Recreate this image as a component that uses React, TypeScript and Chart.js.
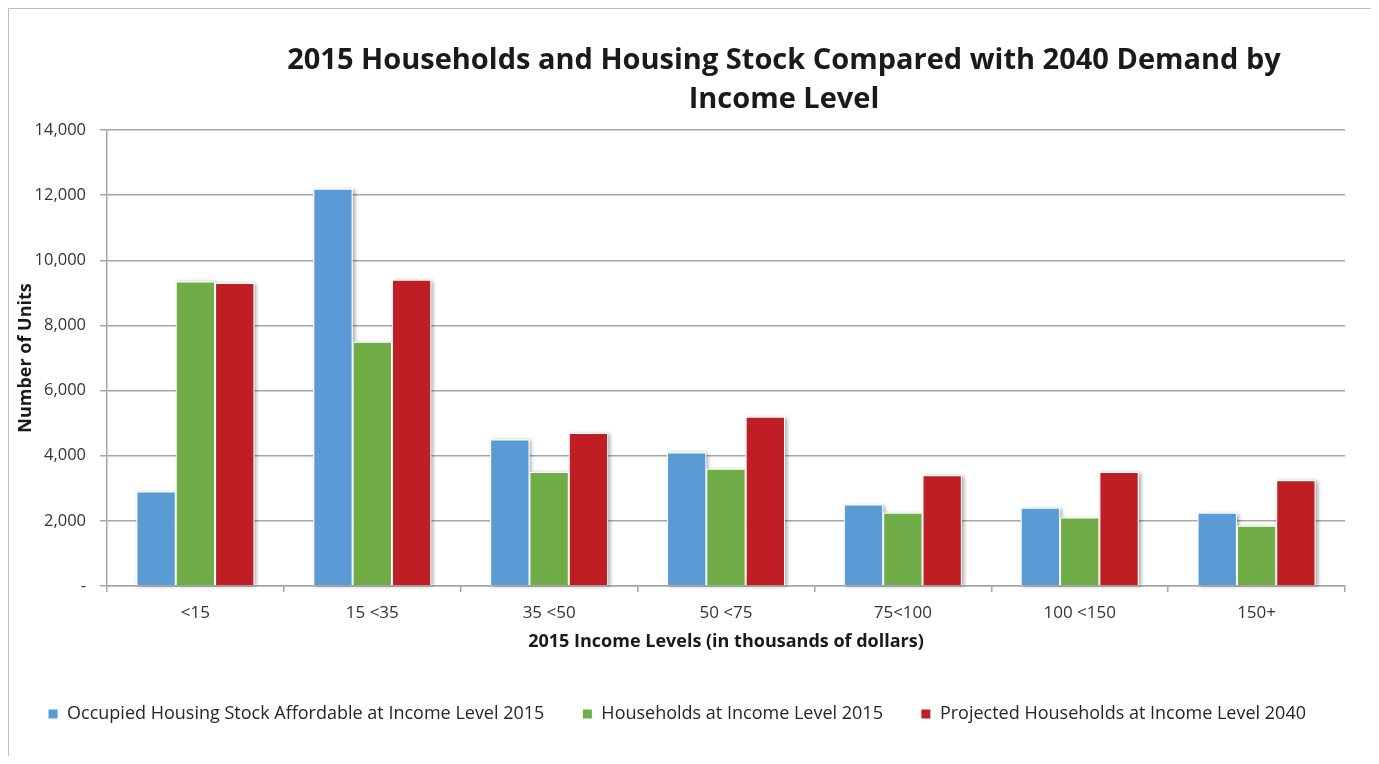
import React, { useEffect, useRef } from "react";
import { Chart, registerables } from "chart.js";

Chart.register(...registerables);

const categories = ["<15", "15 <35", "35 <50", "50 <75", "75<100", "100 <150", "150+"];
const occupiedStock2015 = [2900, 12200, 4500, 4100, 2500, 2400, 2250];
const households2015 = [9350, 7500, 3500, 3600, 2250, 2100, 1850];
const projected2040 = [9300, 9400, 4700, 5200, 3400, 3500, 3250];
const seriesLabels = [
  "Occupied Housing Stock Affordable at Income Level 2015",
  "Households at Income Level 2015",
  "Projected Households at Income Level 2040",
];
const seriesColors = ["#5B9BD5", "#70AD47", "#BE1E24"];
const titleLines = [
  "2015 Households and Housing Stock Compared with 2040 Demand by",
  "Income Level",
];
const yAxisTitle = "Number of Units";
const xAxisTitle = "2015 Income Levels (in thousands of dollars)";
const yMin = 0;
const yMax = 14000;
const yStep = 2000;

const FONT = "'Open Sans', Lato, sans-serif";
const CANVAS_W = 1370;
const CANVAS_H = 747;

const titlePlugin = {
  id: "customTitle",
  afterDraw(chart: any) {
    const ctx = chart.ctx;
    ctx.save();
    ctx.font = `bold 29px ${FONT}`;
    ctx.fillStyle = "#1a1a1a";
    ctx.textAlign = "center";
    ctx.textBaseline = "middle";
    titleLines.forEach((line, i) => {
      ctx.fillText(line, 775, 52 + i * 39);
    });
    ctx.restore();
  },
};

const shadowPlugin = {
  id: "barShadow",
  beforeDatasetsDraw(chart: any) {
    const ctx = chart.ctx;
    ctx.save();
    ctx.shadowColor = "rgba(0,0,0,0.35)";
    ctx.shadowBlur = 4;
    ctx.shadowOffsetX = 2;
    ctx.shadowOffsetY = 1;
    ctx.fillStyle = "#ffffff";
    chart.data.datasets.forEach((_: any, di: number) => {
      const meta = chart.getDatasetMeta(di);
      meta.data.forEach((bar: any) => {
        const { x, y, base, width } = bar.getProps(["x", "y", "base", "width"], true);
        ctx.fillRect(x - width / 2, y, width, base - y);
      });
    });
    ctx.restore();
  },
};

export default function App() {
  const canvasRef = useRef<HTMLCanvasElement | null>(null);

  useEffect(() => {
    if (!canvasRef.current) return;
    const seriesData = [occupiedStock2015, households2015, projected2040];
    const chart = new Chart(canvasRef.current, {
      type: "bar",
      data: {
        labels: categories,
        datasets: seriesData.map((d, i) => ({
          label: seriesLabels[i],
          data: d,
          backgroundColor: seriesColors[i],
          borderColor: "#ffffff",
          borderWidth: 1,
          categoryPercentage: 0.667,
          barPercentage: 1.0,
        })),
      },
      options: {
        animation: false,
        responsive: false,
        devicePixelRatio: 1,
        layout: { padding: { top: 121, left: 0, right: 34, bottom: 23 } },
        plugins: {
          title: { display: false },
          tooltip: { enabled: false },
          legend: {
            display: true,
            position: "bottom",
            labels: {
              boxWidth: 10,
              boxHeight: 10,
              padding: 38,
              color: "#262626",
              font: { family: FONT, size: 18 },
            },
          },
        },
        scales: {
          x: {
            grid: {
              display: true,
              drawOnChartArea: false,
              drawTicks: true,
              tickLength: 6,
              color: "#a6a6a6",
              lineWidth: 1.5,
            },
            border: { display: true, color: "#a6a6a6", width: 1.5 },
            ticks: {
              color: "#333333",
              font: { family: FONT, size: 17 },
              padding: 11,
              maxRotation: 0,
            },
            title: {
              display: true,
              text: xAxisTitle,
              color: "#1a1a1a",
              font: { family: FONT, size: 18, weight: "bold" },
              padding: { top: 0, bottom: 14 },
            },
            afterFit(scale: any) {
              scale.height = 81;
            },
          },
          y: {
            min: yMin,
            max: yMax,
            grid: {
              color: "#a6a6a6",
              lineWidth: 1.5,
              tickLength: 7,
            },
            border: { display: true, color: "#a6a6a6", width: 1.5 },
            ticks: {
              stepSize: yStep,
              color: "#333333",
              font: { family: FONT, size: 16.5 },
              padding: 14,
              callback: (v: any) => (Number(v) === 0 ? "-" : Number(v).toLocaleString("en-US")),
            },
            title: {
              display: true,
              text: yAxisTitle,
              color: "#1a1a1a",
              font: { family: FONT, size: 18, weight: "bold" },
              padding: { top: 6, bottom: 0 },
            },
            afterFit(scale: any) {
              scale.width = 98;
            },
          },
        },
      },
      plugins: [shadowPlugin, titlePlugin],
    });
    return () => chart.destroy();
  }, []);

  return (
    <div
      style={{
        width: CANVAS_W,
        height: CANVAS_H,
        borderLeft: "1px solid #bfbfbf",
        borderTop: "1px solid #bfbfbf",
        background: "#ffffff",
      }}
    >
      <canvas ref={canvasRef} width={CANVAS_W} height={CANVAS_H} style={{ display: "block" }} />
    </div>
  );
}
